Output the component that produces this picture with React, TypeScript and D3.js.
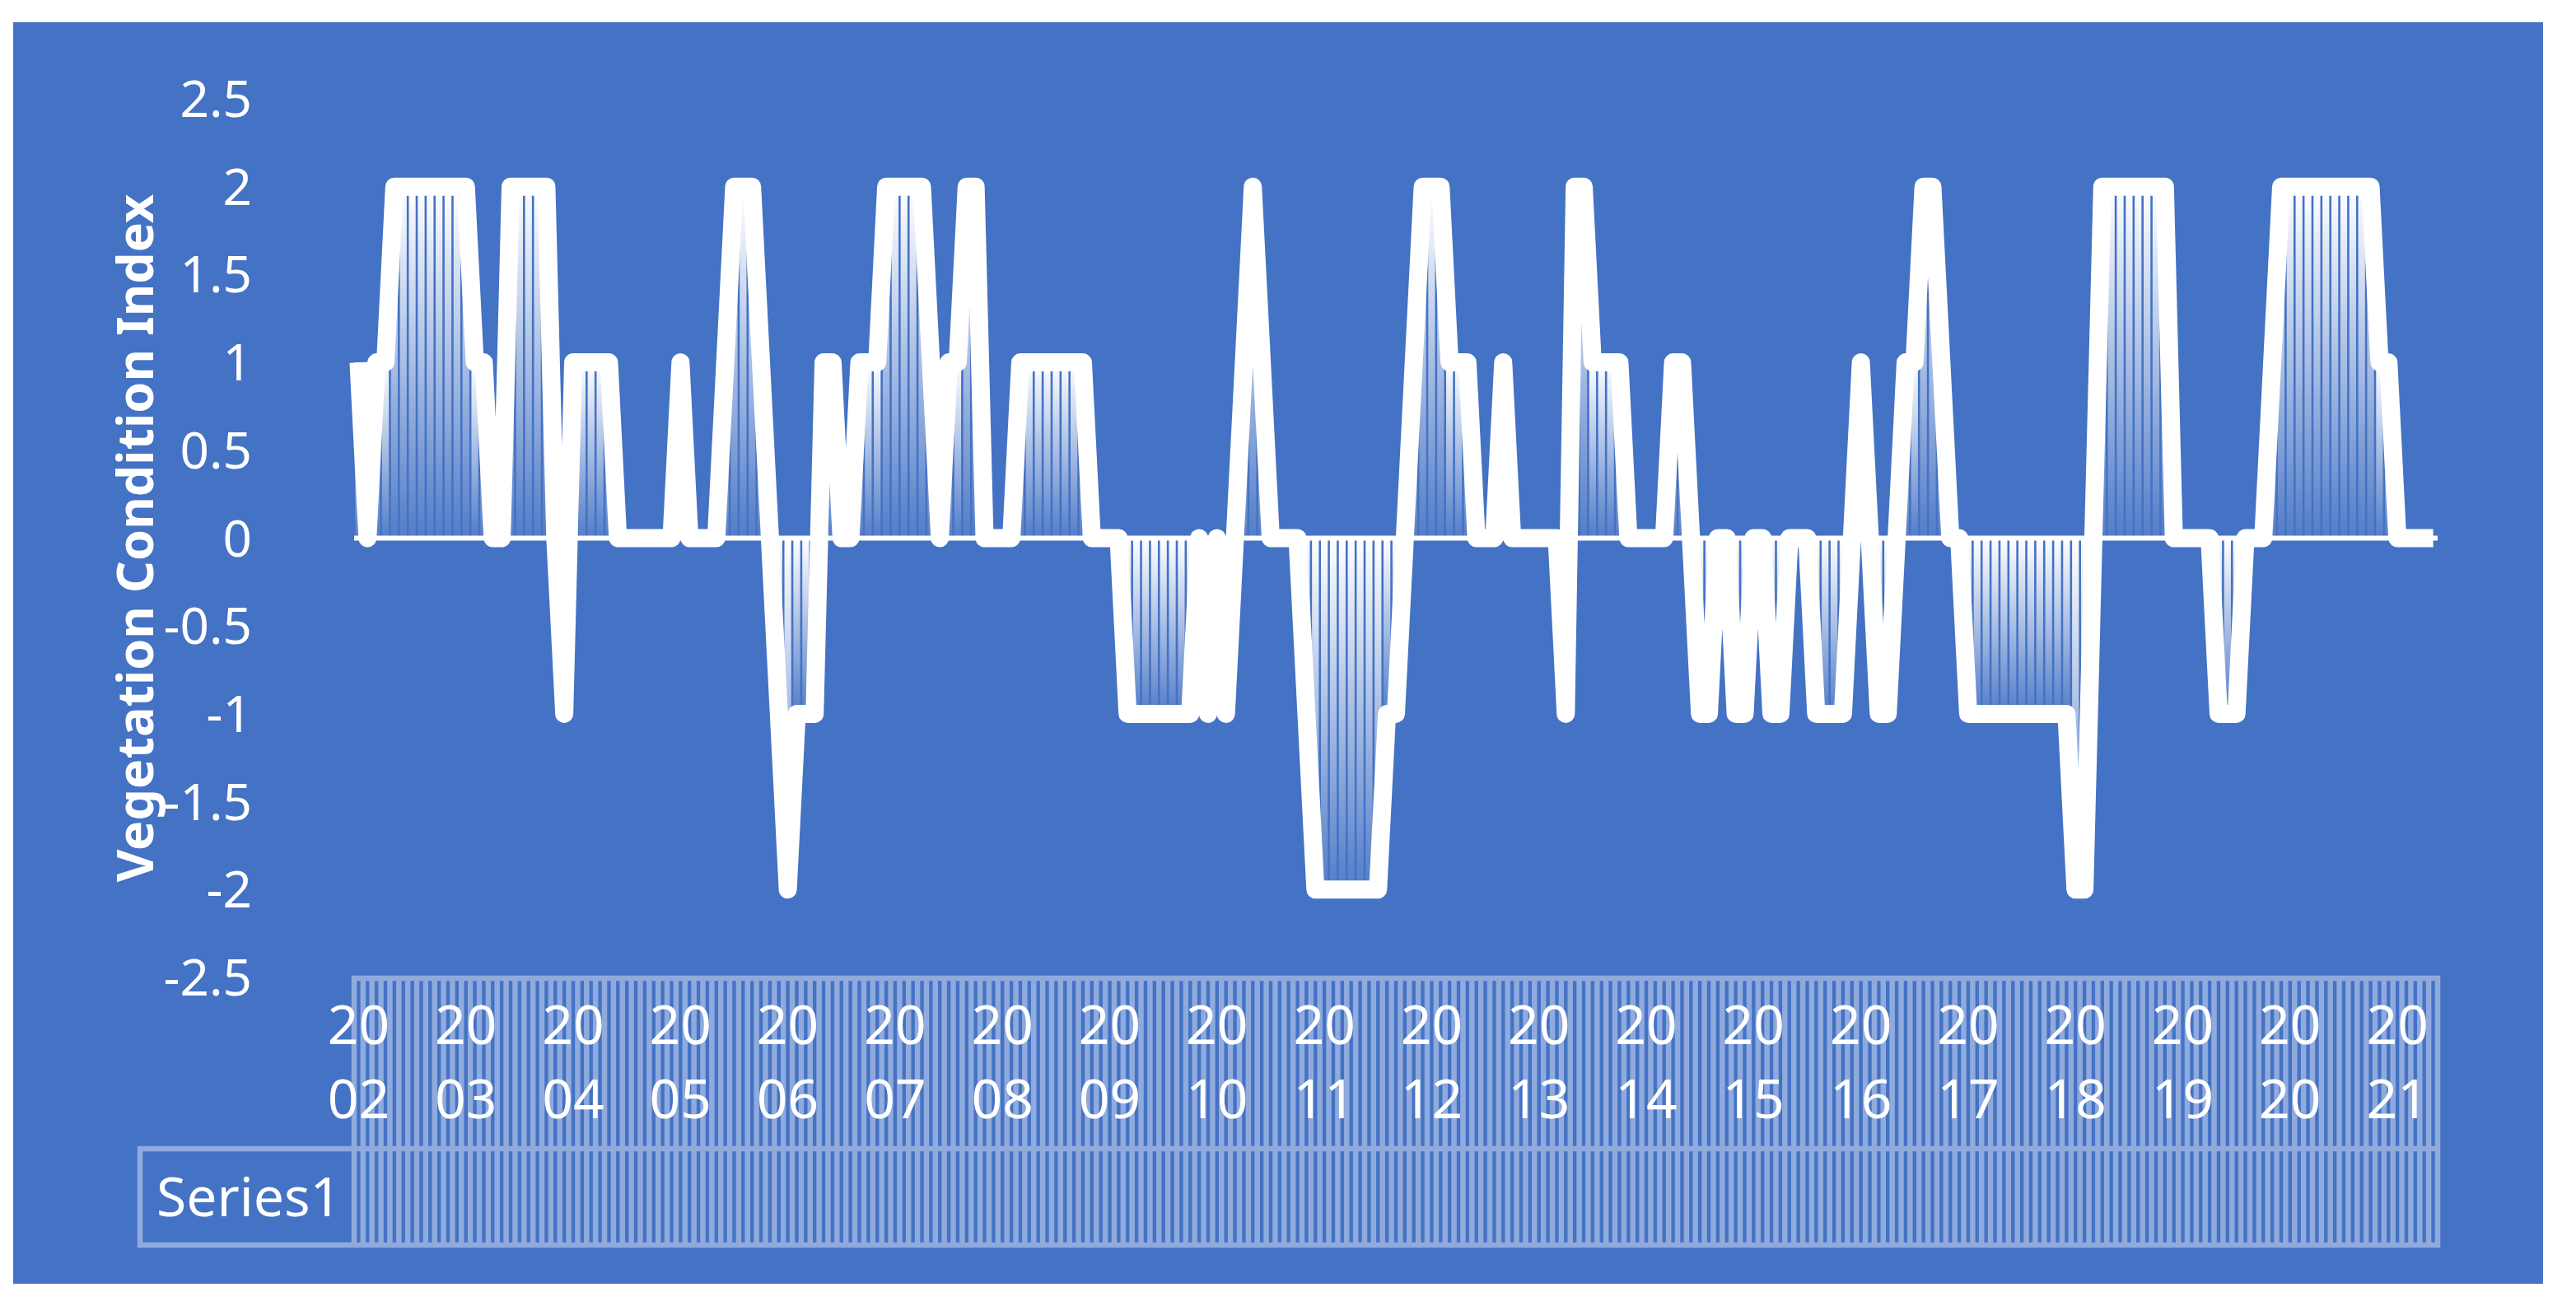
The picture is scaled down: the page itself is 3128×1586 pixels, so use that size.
import React from "react";
import * as d3 from "d3";

// monthly Vegetation Condition Index, Jan 2002 .. May 2021
const vci = [
  1, 0, 1, 1, 2, 2, 2, 2, 2, 2, 2, 2, // 2002
  2, 1, 1, 0, 0, 2, 2, 2, 2, 2, 0, -1, // 2003
  1, 1, 1, 1, 1, 0, 0, 0, 0, 0, 0, 0, // 2004
  1, 0, 0, 0, 0, 1, 2, 2, 2, 1, 0, -1, // 2005
  -2, -1, -1, -1, 1, 1, 0, 0, 1, 1, 1, 2, // 2006
  2, 2, 2, 2, 1, 0, 1, 1, 2, 2, 0, 0, // 2007
  0, 0, 1, 1, 1, 1, 1, 1, 1, 1, 0, 0, // 2008
  0, 0, -1, -1, -1, -1, -1, -1, -1, -1, 0, -1, // 2009
  0, -1, 0, 1, 2, 1, 0, 0, 0, 0, -1, -2, // 2010
  -2, -2, -2, -2, -2, -2, -2, -1, -1, 0, 1, 2, // 2011
  2, 2, 1, 1, 1, 0, 0, 0, 1, 0, 0, 0, // 2012
  0, 0, 0, -1, 2, 2, 1, 1, 1, 1, 0, 0, // 2013
  0, 0, 0, 1, 1, 0, -1, -1, 0, 0, -1, -1, // 2014
  0, 0, -1, -1, 0, 0, 0, -1, -1, -1, -1, 0, // 2015
  1, 0, -1, -1, 0, 1, 1, 2, 2, 1, 0, 0, // 2016
  -1, -1, -1, -1, -1, -1, -1, -1, -1, -1, -1, -1, // 2017
  -2, -2, 0, 2, 2, 2, 2, 2, 2, 2, 2, 0, // 2018
  0, 0, 0, 0, -1, -1, -1, 0, 0, 0, 1, 2, // 2019
  2, 2, 2, 2, 2, 2, 2, 2, 2, 2, 1, 1, // 2020
  0, 0, 0, 0, 0, // 2021
];

const years = d3.range(2002, 2022).map(String);
const yTicks = [2.5, 2, 1.5, 1, 0.5, 0, -0.5, -1, -1.5, -2, -2.5];

const W = 3128;
const H = 1586;
const BLUE = "#4472C4";
const GRID = "#8FAADC";
const FONT = "'Noto Sans', 'Open Sans', sans-serif";

const App: React.FC = () => {
  const idx = d3.range(vci.length);

  const x = d3
    .scaleBand<number>()
    .domain(idx)
    .range([430, 2960])
    .paddingInner(0.24)
    .paddingOuter(0.12);

  const y = d3.scaleLinear().domain([-2.5, 2.5]).range([1187, 120]);

  const cx = (i: number) => (x(i) as number) + x.bandwidth() / 2;
  const step = x.step();

  const line = d3
    .line<number>()
    .x((d, i) => cx(i))
    .y(d => y(d));

  // table cell borders, one per category boundary
  const borders = d3.range(vci.length + 1).map(k => 430 + k * step);

  return (
    <svg
      width={W}
      height={H}
      style={{ position: "absolute", left: 0, top: 0, background: "#fff" }}
    >
      <defs>
        <linearGradient id="barGrad" x1="0" y1="0" x2="0" y2="1">
          <stop offset="0" stopColor="#fff" stopOpacity={1} />
          <stop offset="1" stopColor="#fff" stopOpacity={0.08} />
        </linearGradient>
      </defs>

      <rect x={16} y={27} width={3072} height={1532} fill={BLUE} />

      {/* y axis labels */}
      {yTicks.map(t => (
        <text
          key={t}
          x={306}
          y={y(t) + 22}
          textAnchor="end"
          fill="#fff"
          fontFamily={FONT}
          fontSize={62}
        >
          {String(t)}
        </text>
      ))}

      <text
        transform={`translate(186, ${y(0)}) rotate(-90)`}
        textAnchor="middle"
        fill="#fff"
        fontFamily={FONT}
        fontWeight="bold"
        fontSize={61}
      >
        Vegetation Condition Index
      </text>

      {/* bars */}
      {vci.map((v, i) => (
        <rect
          key={i}
          x={x(i)}
          y={Math.min(y(v), y(0))}
          width={x.bandwidth()}
          height={Math.abs(y(v) - y(0))}
          fill="url(#barGrad)"
        />
      ))}

      {/* zero axis line */}
      <line x1={430} x2={2960} y1={y(0)} y2={y(0)} stroke="#fff" strokeWidth={6} />

      {/* main line */}
      <path
        d={line(vci) || ""}
        fill="none"
        stroke="#fff"
        strokeWidth={22}
        strokeLinejoin="round"
        strokeLinecap="butt"
      />

      {/* data table */}
      <g stroke={GRID} strokeWidth={6.5}>
        {borders.map((bx, k) => (
          <line key={k} x1={bx} x2={bx} y1={1185} y2={1515} />
        ))}
        <line x1={427} x2={2963} y1={1188} y2={1188} />
        <line x1={167} x2={2963} y1={1395} y2={1395} />
        <line x1={167} x2={2963} y1={1512} y2={1512} />
        <line x1={170} x2={170} y1={1392} y2={1515} />
      </g>

      {years.map((yr, k) => (
        <text
          key={yr}
          x={cx(k * 12)}
          textAnchor="middle"
          fill="#fff"
          fontFamily={FONT}
          fontSize={66}
        >
          <tspan x={cx(k * 12)} y={1268}>
            {yr.slice(0, 2)}
          </tspan>
          <tspan x={cx(k * 12)} y={1358}>
            {yr.slice(2)}
          </tspan>
        </text>
      ))}

      <text x={190} y={1477} fill="#fff" fontFamily={FONT} fontSize={66}>
        Series1
      </text>
    </svg>
  );
};

export default App;
